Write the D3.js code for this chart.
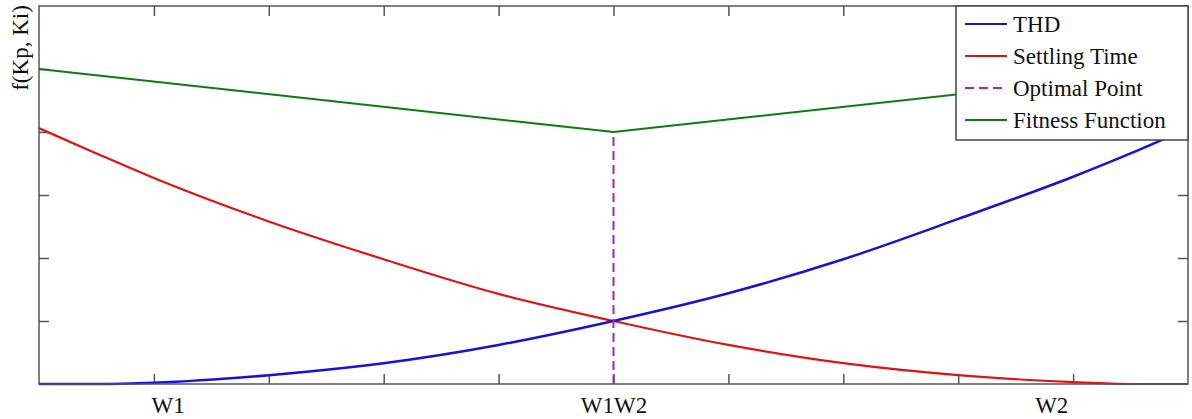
<!DOCTYPE html>
<html>
<head>
<meta charset="utf-8">
<script src="https://cdn.jsdelivr.net/npm/d3@7"></script>
<style>
	html, body { margin: 0; padding: 0; background: #fff; }
	svg { display: block; font-family: "Liberation Serif", "Times New Roman", serif; }
	.axis path { display: none; }
	.axis line { stroke: #555; stroke-width: 1.5; }
	.labels text { font-size: 23px; fill: #111; font-family: "Liberation Serif", "Times New Roman", serif; }
	.legend text { font-size: 23px; fill: #111; }
</style>
</head>
<body>
<div id="chart"></div>
<script>
// x positions of the sampled points (0 = left edge, 1 = right edge)
const xs = [0, 0.05, 0.1, 0.2, 0.3, 0.4, 0.5, 0.6, 0.7, 0.8, 0.9, 0.95, 1];
const thd = [0, 0, 0.02, 0.14, 0.33, 0.62, 1.0, 1.44, 1.98, 2.62, 3.29, 3.66, 4.06];
const settling = [4.06, 3.66, 3.27, 2.58, 1.98, 1.43, 1.0, 0.62, 0.33, 0.14, 0.03, 0, 0];
const fitnessX = [0, 0.5, 1];
const fitness = [5.0, 4.0, 5.0];
const optimal = { x: 0.5, y: [0, 4.0] };

const xTicks = [0.1, 0.2, 0.3, 0.4, 0.5, 0.6, 0.7, 0.8, 0.9];
const yTicks = [1, 2, 3, 4, 5];
const xLabels = ['W1', 'W1W2', 'W2'];
const xLabelPos = [0.112, 0.5, 0.881];

const legendItems = [
	{ name: 'THD', color: '#1414d2', dash: null },
	{ name: 'Settling Time', color: '#dc1414', dash: null },
	{ name: 'Optimal Point', color: '#b020b0', dash: '9,5' },
	{ name: 'Fitness Function', color: '#0f7a0f', dash: null }
];

const size = { width: 1192, height: 419 };
const box = { left: 39, right: 1188, top: 6, bottom: 384 };

const scale = {
	x: d3.scaleLinear().domain([0, 1]).range([box.left, box.right]),
	y: d3.scaleLinear().domain([0, 6]).range([box.bottom, box.top])
};

const $svg = d3.select('#chart').append('svg')
	.attr('width', size.width)
	.attr('height', size.height);

// inward ticks on all four sides
$svg.append('g').attr('class', 'axis')
	.attr('transform', `translate(0,${box.bottom})`)
	.call(d3.axisBottom(scale.x).tickValues(xTicks).tickSize(-10).tickFormat(''));
$svg.append('g').attr('class', 'axis')
	.attr('transform', `translate(0,${box.top})`)
	.call(d3.axisTop(scale.x).tickValues(xTicks).tickSize(-10).tickFormat(''));
$svg.append('g').attr('class', 'axis')
	.attr('transform', `translate(${box.left},0)`)
	.call(d3.axisLeft(scale.y).tickValues(yTicks).tickSize(-10).tickFormat(''));
$svg.append('g').attr('class', 'axis')
	.attr('transform', `translate(${box.right},0)`)
	.call(d3.axisRight(scale.y).tickValues(yTicks).tickSize(-10).tickFormat(''));

// x labels
const $labels = $svg.append('g').attr('class', 'labels')
	.attr('transform', `translate(0,${box.bottom})`)
	.call(d3.axisBottom(scale.x).tickValues(xLabelPos).tickSize(0).tickPadding(13)
		.tickFormat((d, i) => xLabels[i]));
$labels.attr('font-family', null).attr('font-size', null);
$labels.select('.domain').remove();

$svg.append('text')
	.attr('class', 'ylabel')
	.attr('transform', `translate(28,48) rotate(-90)`)
	.attr('text-anchor', 'middle')
	.attr('font-size', 23)
	.attr('fill', '#111')
	.text('f(Kp, Ki)');

// curves
const smooth = d3.line()
	.x((d) => scale.x(d[0]))
	.y((d) => scale.y(d[1]))
	.curve(d3.curveMonotoneX);
const straight = d3.line()
	.x((d) => scale.x(d[0]))
	.y((d) => scale.y(d[1]));

$svg.append('path')
	.attr('d', straight(fitnessX.map((x, i) => [x, fitness[i]])))
	.attr('fill', 'none').attr('stroke', legendItems[3].color).attr('stroke-width', 2);

$svg.append('path')
	.attr('d', smooth(xs.map((x, i) => [x, settling[i]])))
	.attr('fill', 'none').attr('stroke', legendItems[1].color).attr('stroke-width', 2.2);

$svg.append('path')
	.attr('d', smooth(xs.map((x, i) => [x, thd[i]])))
	.attr('fill', 'none').attr('stroke', legendItems[0].color).attr('stroke-width', 2.5);

$svg.append('line')
	.attr('x1', scale.x(optimal.x)).attr('x2', scale.x(optimal.x))
	.attr('y1', scale.y(optimal.y[0])).attr('y2', scale.y(optimal.y[1]))
	.attr('stroke', legendItems[2].color).attr('stroke-width', 2)
	.attr('stroke-dasharray', legendItems[2].dash);

// frame
$svg.append('rect')
	.attr('x', box.left).attr('y', box.top)
	.attr('width', box.right - box.left).attr('height', box.bottom - box.top)
	.attr('fill', 'none').attr('stroke', '#555').attr('stroke-width', 1.5);

// legend
const $legend = $svg.append('g').attr('class', 'legend');
$legend.append('rect')
	.attr('x', 956).attr('y', box.top)
	.attr('width', box.right - 956).attr('height', 140 - box.top)
	.attr('fill', '#fff').attr('stroke', '#444').attr('stroke-width', 1.5);

const $rows = $legend.selectAll('.row')
	.data(legendItems)
	.enter().append('g')
	.attr('class', 'row')
	.attr('transform', (d, i) => `translate(0,${32 + i * 32})`);

$rows.append('line')
	.attr('x1', 965).attr('x2', 1007)
	.attr('y1', -8).attr('y2', -8)
	.attr('stroke', (d) => d.color)
	.attr('stroke-width', 2)
	.attr('stroke-dasharray', (d) => d.dash);

$rows.append('text')
	.attr('x', 1013)
	.text((d) => d.name);
</script>
</body>
</html>
